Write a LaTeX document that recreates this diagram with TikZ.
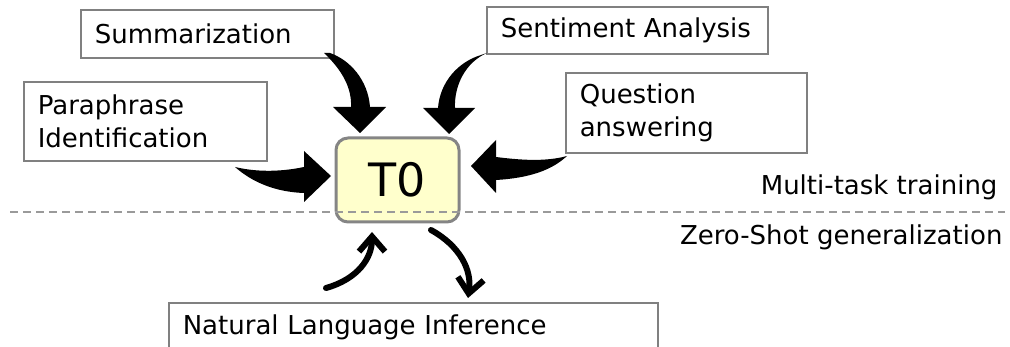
\documentclass[tikz,border=0pt]{standalone}
\usepackage{fontspec}
\setmainfont{DejaVu Sans}
\usetikzlibrary{arrows.meta}
\definecolor{boxline}{HTML}{808080}
\definecolor{dashline}{HTML}{9A9A9A}
\definecolor{tzfill}{HTML}{FFFFCC}
\definecolor{tzline}{HTML}{858585}
\begin{document}
\begin{tikzpicture}[x=1pt,y=-1pt,
  taskbox/.style={draw=boxline,line width=1.6pt,fill=white,anchor=north west,
    inner xsep=14pt,inner ysep=0pt,align=left,font=\fontsize{26}{33}\selectfont},
  modelbox/.style={draw=tzline,line width=3pt,fill=tzfill,rounded corners=12pt,
    minimum width=123pt,minimum height=84pt,font=\fontsize{46}{46}\selectfont},
  label/.style={font=\fontsize{26}{30}\selectfont,anchor=east},
  fatarrow/.style={fill=black},
  thinarrow/.style={line width=6pt,line cap=round,
    -{Straight Barb[length=15pt,width=26pt,line width=6pt]}}]
\useasboundingbox (0,0) rectangle (1010,347);

% task boxes
\node[taskbox,minimum width=253pt,minimum height=48pt,text width=225pt] (summ) at (80,9) {Summarization};
\node[taskbox,minimum width=281pt,minimum height=47pt,text width=253pt] (sent) at (486,6) {Sentiment Analysis};
\node[taskbox,minimum width=243pt,minimum height=79pt,text width=215pt] (para) at (23,81) {Paraphrase\\Identification};
\node[taskbox,minimum width=241pt,minimum height=80pt,text width=213pt] (qa) at (565,72) {Question\\answering};
\node[taskbox,minimum width=489pt,minimum height=50pt,text width=461pt] (nli) at (168,302) {Natural Language Inference};

% the model
\node[modelbox] (t0) at (397.5,180) {T0};

% phase separator
\draw[dashline,line width=1.8pt,dash pattern=on 8pt off 5pt] (10,212) -- (1005,212);
\node[label] (mt) at (1001,187) {Multi-task training};
\node[label] (zs) at (1006,237) {Zero-Shot generalization};

% block arrows into the model
\fill[fatarrow] (324,53) .. controls (342,70) and (352,88) .. (351,107) -- (333,107) -- (360,133)
  -- (386,107) -- (370,107) .. controls (368,80) and (350,60) .. (330,53) -- cycle;
\fill[fatarrow] (487,53) .. controls (466,62) and (454,85) .. (455,108) -- (475,108) -- (449,134)
  -- (423,108) -- (438,108) .. controls (440,82) and (458,62) .. (481,55) -- cycle;
\fill[fatarrow] (235,167) .. controls (260,173) and (285,171) .. (304,167) -- (304,151) -- (331,176)
  -- (304,202) -- (304,193) .. controls (275,192) and (252,182) .. (235,167) -- cycle;
\fill[fatarrow] (567,156) .. controls (545,162) and (520,160) .. (496,157) -- (496,140) -- (471,166)
  -- (496,193) -- (496,180) .. controls (530,178) and (552,170) .. (567,156) -- cycle;

% zero-shot arrows
\draw[thinarrow] (326,288) .. controls (358,279) and (372,258) .. (372,232);
\draw[thinarrow] (431,230) .. controls (460,246) and (472,270) .. (468,298);
\end{tikzpicture}
\end{document}
